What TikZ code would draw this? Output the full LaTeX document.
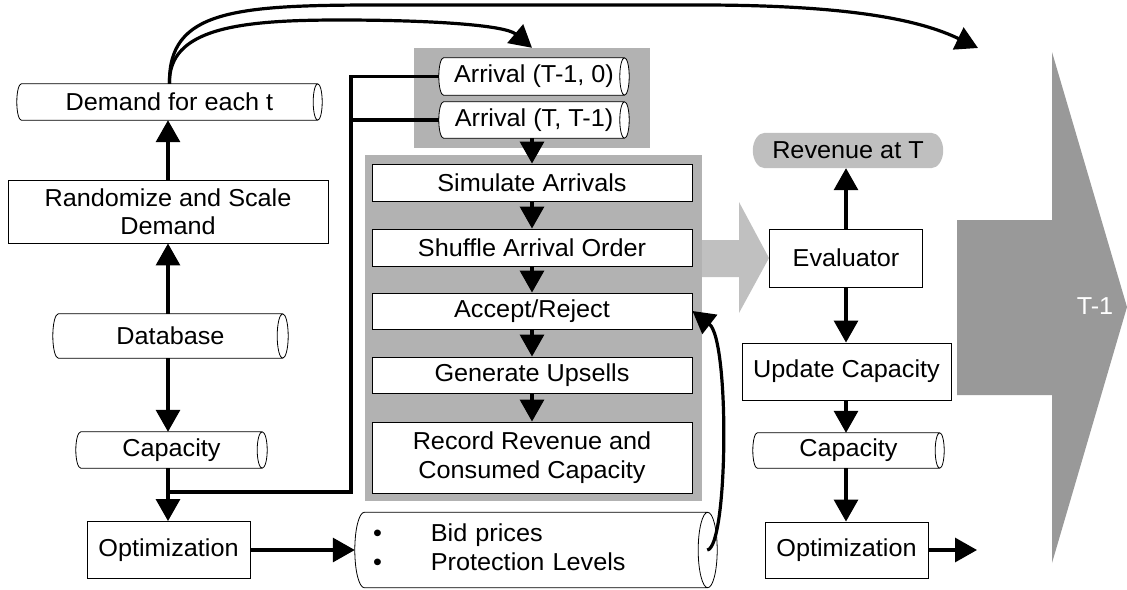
\documentclass[tikz,border=0pt]{standalone}
\usepackage{fontspec}
\setmainfont{Liberation Sans}[FakeStretch=1.03]
\usetikzlibrary{arrows.meta,calc}
\pgfdeclarelayer{back}
\pgfdeclarelayer{bg}
\pgfsetlayers{back,bg,main}
\definecolor{boxgray}{HTML}{B2B2B2}
\definecolor{lightblock}{HTML}{C0C0C0}
\definecolor{darkblock}{HTML}{999999}
\definecolor{revgray}{HTML}{BFBFBF}
\newcommand\fs{\fontsize{24.5}{28.5}\selectfont}
\newcommand\cylout[2]{%
\begin{pgfonlayer}{bg}
\draw[line width=0.8pt, fill=white] let \p1=(#1.north west), \p2=(#1.south east), \n1={(\y1-\y2)/2} in
 (\x1+#2,\y1) arc[start angle=90,end angle=270,x radius=#2,y radius=\n1]
 -- (\x2-#2,\y2) arc[start angle=-90,end angle=90,x radius=#2,y radius=\n1] -- cycle
 (\x2-#2,\y1) arc[start angle=90,end angle=270,x radius=#2,y radius=\n1];
\end{pgfonlayer}}
\newcommand\stadium[2]{%
\begin{pgfonlayer}{bg}
\fill[revgray] let \p1=(#1.north west), \p2=(#1.south east), \n1={(\y1-\y2)/2} in
 (\x1+#2,\y1) arc[start angle=90,end angle=270,x radius=#2,y radius=\n1]
 -- (\x2-#2,\y2) arc[start angle=-90,end angle=90,x radius=#2,y radius=\n1] -- cycle;
\end{pgfonlayer}}
\tikzset{
  box/.style={draw=black, line width=0.9pt, fill=white, inner sep=0pt, align=center},
  cyl/.style={inner sep=0pt, align=center},
  graybox/.style={fill=boxgray, inner sep=0pt},
  conn/.style={line width=3.2pt, -{Triangle[length=22pt,width=24pt]}},
  plainline/.style={line width=3.2pt},
}
\begin{document}
\begin{tikzpicture}[x=1pt,y=1pt,font=\fs]
\useasboundingbox (0,0) rectangle (1127,-589);
% background gray regions
\begin{pgfonlayer}{back}
\node[graybox, minimum width=236pt, minimum height=100pt] (arrbox) at (532,-98) {};
\node[graybox, minimum width=337pt, minimum height=346pt] (bigbox) at (533.5,-328) {};
\fill[lightblock] (702,-240) -- (739,-240) -- (739,-202) -- (769,-258) -- (739,-313) -- (739,-277) -- (702,-277) -- cycle;
\fill[darkblock] (957,-220) -- (1052,-220) -- (1052,-52) -- (1127,-307) -- (1052,-563) -- (1052,-395) -- (957,-395) -- cycle;
\end{pgfonlayer}
% left column
\node[cyl, minimum width=305pt, minimum height=36pt] (dem) at (169.5,-102) {Demand for each t};
\cylout{dem}{4.5pt}
\node[box, minimum width=320pt, minimum height=63pt] (rand) at (168,-211.5) {Randomize and Scale\\Demand};
\node[cyl, minimum width=235pt, minimum height=44pt] (db) at (170.5,-336) {Database};
\cylout{db}{5.5pt}
\node[cyl, minimum width=191pt, minimum height=36pt] (cap1) at (171.5,-450) {Capacity};
\cylout{cap1}{5pt}
\node[box, minimum width=163pt, minimum height=57pt] (opt1) at (168.5,-550) {Optimization};
% arrivals
\node[cyl, minimum width=190pt, minimum height=37pt] (arr1) at (534,-76.5) {Arrival (T-1, 0)};
\cylout{arr1}{4.7pt}
\node[cyl, minimum width=190pt, minimum height=36pt] (arr2) at (534,-120) {Arrival (T, T-1)};
\cylout{arr2}{4.7pt}
% simulation boxes
\node[box, minimum width=320pt, minimum height=37pt] (sim) at (532,-182.5) {Simulate Arrivals};
\node[box, minimum width=320pt, minimum height=37pt] (shuf) at (532,-247.5) {Shuffle Arrival Order};
\node[box, minimum width=320pt, minimum height=36pt] (acc) at (532,-311) {Accept/Reject};
\node[box, minimum width=320pt, minimum height=36pt] (gen) at (532,-375) {Generate Upsells};
\node[box, minimum width=320pt, minimum height=71pt] (rec) at (532,-457.5) {Record Revenue and\\Consumed Capacity};
% bid prices
\node[cyl, minimum width=362pt, minimum height=75pt, text width=340pt, align=left] (bid) at (536,-550)
  {\renewcommand\arraystretch{1.05}\hspace*{7pt}\begin{tabular}{@{}l@{\hspace{49pt}}l@{}}\textbullet & Bid prices\\ \textbullet & Protection Levels\end{tabular}};
\cylout{bid}{9.5pt}
% right column
\node[cyl, minimum width=190pt, minimum height=35pt] (rev) at (848,-150.5) {Revenue at T};
\stadium{rev}{12pt}
\node[box, minimum width=153pt, minimum height=58pt] (eval) at (846,-258) {Evaluator};
\node[box, minimum width=209pt, minimum height=57pt] (upd) at (846.5,-371.5) {Update Capacity};
\node[cyl, minimum width=191pt, minimum height=35pt] (cap2) at (848.5,-450.5) {Capacity};
\cylout{cap2}{4.5pt}
\node[box, minimum width=163pt, minimum height=56pt] (opt2) at (846.5,-550) {Optimization};
\node[text=white] (tlabel) at (1095,-306) {T-1};
% coordinates
\coordinate (tgtfar) at (978,-48);
\coordinate (out2) at (977,-550);
\coordinate (j) at (168,-492);
\coordinate (vx) at (351,-492);
% connectors left
\draw[conn] (rand.north) -- (rand.north |- dem.south);
\draw[conn] (rand.south |- db.north) -- (rand.south);
\draw[conn] (rand.south |- db.south) -- (rand.south |- cap1.north);
\draw[conn] (rand.south |- cap1.south) -- (rand.south |- opt1.north);
\draw[conn] (opt1.east) -- (bid.west);
\draw[plainline] (j) -- (vx) |- (arr1.west);
\draw[plainline] (vx |- arr2.west) -- (arr2.west);
% curves from demand
\draw[conn] (dem.north) .. controls (168,-10) and (235,-5) .. (380,-5) -- (700,-5) .. controls (850,-5) and (920,-20) .. (tgtfar);
\draw[conn] (dem.north) .. controls (168,-28) and (240,-20) .. (340,-20) .. controls (430,-20) and (505,-25) .. (arrbox.north);
% simulation chain
\draw[conn] (arr2.south -| sim.north) -- (sim.north);
\draw[conn] (sim.south) -- (shuf.north);
\draw[conn] (shuf.south) -- (acc.north);
\draw[conn] (acc.south) -- (gen.north);
\draw[conn] (gen.south) -- (rec.north);
\draw[conn] ($(bid.east)+(-10,0)$) .. controls (728,-548) and (730,-340) .. (acc.east);
% right column
\draw[conn] (eval.north) -- (eval.north |- rev.south);
\draw[conn] (eval.south) -- (eval.south |- upd.north);
\draw[conn] (eval.south |- upd.south) -- (eval.south |- cap2.north);
\draw[conn] (eval.south |- cap2.south) -- (eval.south |- opt2.north);
\draw[conn] (opt2.east) -- (out2);
\end{tikzpicture}
\end{document}
